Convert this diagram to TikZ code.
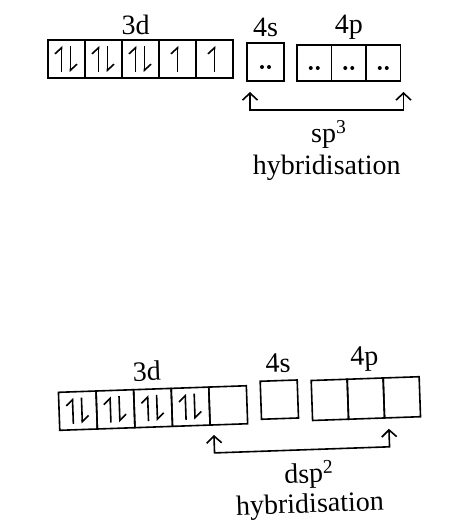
\documentclass[tikz,border=0pt]{standalone}
\usepackage{fontspec}
\setmainfont{Liberation Serif}
\usetikzlibrary{positioning,calc,arrows.meta}

\begin{document}
\begin{tikzpicture}[x=1pt,y=-1pt,
  orb/.style={draw,line width=1.6pt,minimum width=37pt,minimum height=38pt,inner sep=0pt,outer sep=0pt},
  lbl/.style={font=\fontsize{28}{32}\selectfont,inner sep=1pt},
  spin/.style={line width=1.6pt,-{Straight Barb[harpoon,length=6pt,width=13pt]}},
  brk/.style={line width=1.6pt,{Straight Barb[length=7pt,width=15pt]}-{Straight Barb[length=7pt,width=15pt]}}]
\useasboundingbox (0,0) rectangle (474,526);

% upper diagram: sp3
\node[orb] (d1) at (66.5,59) {};
\node[orb,right=0pt of d1] (d2) {};
\node[orb,right=0pt of d2] (d3) {};
\node[orb,right=0pt of d3] (d4) {};
\node[orb,right=0pt of d4] (d5) {};
\node[orb] (s1) at (265.5,62) {};
\node[orb,minimum width=34.5pt,minimum height=36pt] (p1) at (314.25,63) {};
\node[orb,minimum width=34.5pt,minimum height=36pt,right=0pt of p1] (p2) {};
\node[orb,minimum width=34.5pt,minimum height=36pt,right=0pt of p2] (p3) {};
\foreach \b in {d1,d2,d3} {
  \draw[spin] ($(\b.center)+(-5,13)$) -- ++(0,-26);
  \draw[spin] ($(\b.center)+(4,-13)$) -- ++(0,26);
}
\foreach \b in {d4,d5}
  \draw[spin] ($(\b.center)+(0,13)$) -- ++(0,-26);
\foreach \b in {s1,p1,p2,p3} {
  \fill ($(\b.center)+(-3.5,5)$) circle (2);
  \fill ($(\b.center)+(3.5,5)$) circle (2);
}
\node[lbl,above=4pt of d3,xshift=-5pt] (l3d) {3d};
\node[lbl,above=5pt of s1] (l4s) {4s};
\node[lbl,above=4pt of p2] (l4p) {4p};
\coordinate (tl) at ($(s1.south west)+(3,11)$);
\coordinate (tr) at ($(p3.south east)+(3,11)$);
\draw[brk] (tl) -- ++(0,18) -| (tr);
\node[lbl,anchor=base] (sp) at ($(tl)!0.5!(tr)+(2,51)$) {sp\textsuperscript{3}};
\node[lbl,anchor=base] (hyb) at ($(tl)!0.5!(tr)+(0,83)$) {hybridisation};

% lower diagram: dsp2
\begin{scope}[rotate around={2:(240,405)},transform shape]
\node[orb,minimum width=37.6pt] (e1) at (77.8,405) {};
\node[orb,minimum width=37.6pt,right=0pt of e1] (e2) {};
\node[orb,minimum width=37.6pt,right=0pt of e2] (e3) {};
\node[orb,minimum width=37.6pt,right=0pt of e3] (e4) {};
\node[orb,minimum width=37.6pt,right=0pt of e4] (e5) {};
\node[orb] (t1) at (279.5,401) {};
\node[orb,minimum width=36pt,minimum height=40pt] (q1) at (330,403) {};
\node[orb,minimum width=36pt,minimum height=40pt,right=0pt of q1] (q2) {};
\node[orb,minimum width=36pt,minimum height=40pt,right=0pt of q2] (q3) {};
\foreach \b in {e1,e2,e3,e4} {
  \draw[spin] ($(\b.center)+(-5,13)$) -- ++(0,-26);
  \draw[spin] ($(\b.center)+(4,-13)$) -- ++(0,26);
}
\node[lbl,above=7pt of e3,xshift=-5pt] (m3d) {3d};
\node[lbl,above=7pt of t1] (m4s) {4s};
\node[lbl,above=6pt of q2] (m4p) {4p};
\coordinate (bl) at ($(e5.south west)+(3.5,10)$);
\coordinate (br) at ($(q3.south west)+(4,11)$);
\draw[brk] (bl) -- ++(0,18) -| (br);
\node[lbl,anchor=base] (dsp) at ($(bl)!0.5!(br)+(6,51)$) {dsp\textsuperscript{2}};
\node[lbl,anchor=base] (hyb2) at ($(bl)!0.5!(br)+(6,81)$) {hybridisation};
\end{scope}
\end{tikzpicture}
\end{document}
